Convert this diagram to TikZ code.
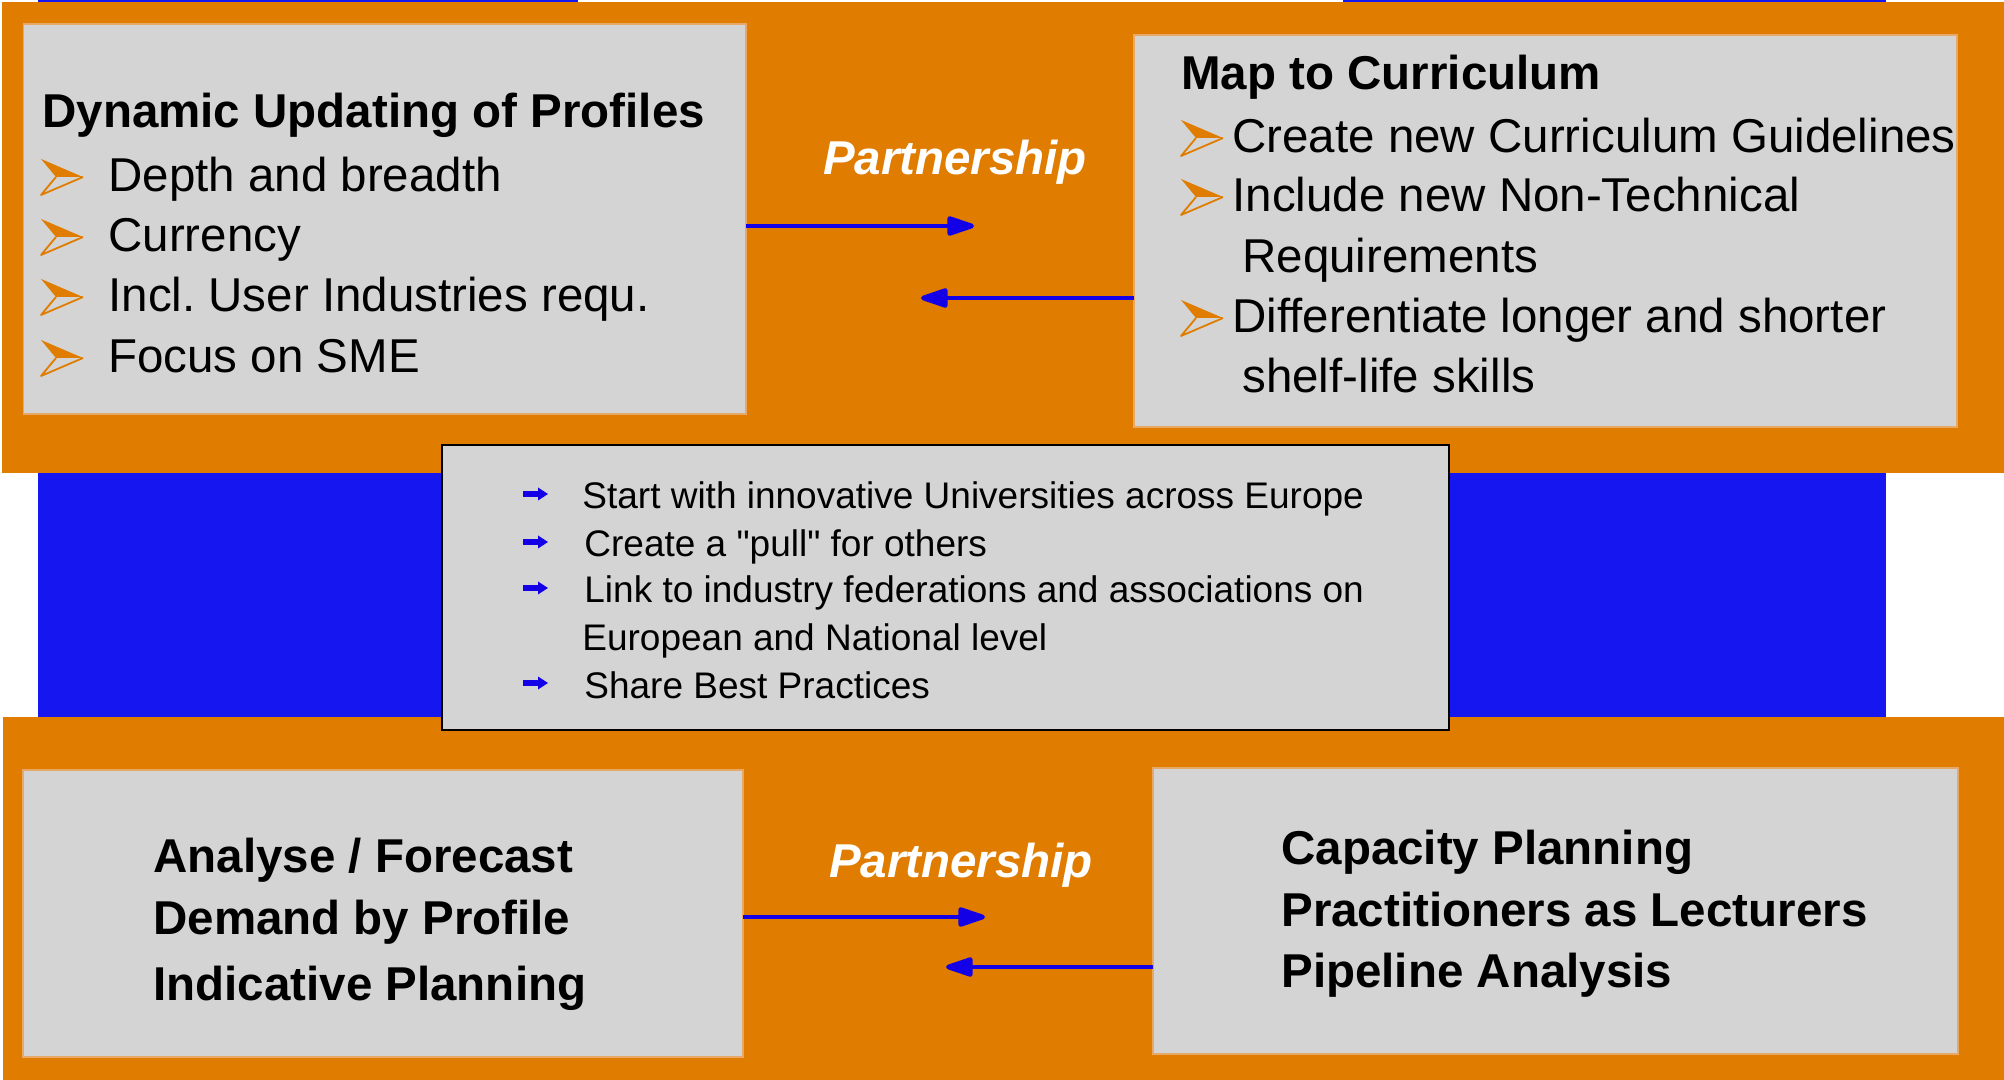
\documentclass[tikz,border=0pt]{standalone}
\usepackage{fontspec}
\setmainfont{Liberation Sans}
\newfontfamily\plainsans{Liberation Sans}
\usetikzlibrary{arrows.meta}
\frenchspacing
\definecolor{ora}{RGB}{224,124,0}
\definecolor{bgblue}{RGB}{22,22,240}
\definecolor{arblue}{RGB}{20,0,230}
\definecolor{boxgray}{RGB}{212,212,212}
\definecolor{boxedge}{RGB}{232,168,104}
\begin{document}
\begin{tikzpicture}[x=0.5pt,y=-0.5pt,
  panel/.style={draw=boxedge, line width=0.6pt, fill=boxgray, inner sep=0pt, outer sep=0pt},
  midpanel/.style={draw=black, line width=1.2pt, fill=boxgray, inner sep=0pt, outer sep=0pt},
  big/.style={inner sep=0pt, anchor=base west, font=\fontsize{23.75pt}{28pt}\selectfont},
  bigb/.style={inner sep=0pt, anchor=base west, font=\fontsize{23.75pt}{28pt}\selectfont\bfseries},
  small/.style={inner sep=0pt, anchor=base west, font=\fontsize{18.5pt}{22pt}\selectfont},
  partner/.style={inner sep=0pt, anchor=base, text=white, font=\fontsize{23.75pt}{28pt}\selectfont\bfseries\itshape},
  conn/.style={draw=arblue, line width=2.3pt, -{Triangle[length=16pt,width=10pt,round]}},
  obullet/.pic={
    \fill[ora] (0,0) -- (42,18) -- (15,18) -- cycle;
    \draw[ora, line width=0.9pt, line join=round] (15,18) -- (0,36) -- (42,18);
  },
  bbullet/.pic={
    \fill[arblue] (0,-3) rectangle (16,3);
    \fill[arblue] (15,-6.5) -- (25,0) -- (15,6.5) -- cycle;
  }]
\useasboundingbox (0,0) rectangle (2004,1080);
\fill[white] (0,0) rectangle (2004,1080);
% background bands
\fill[bgblue] (38,0) rectangle (1886,717);
\fill[white] (578,0) rectangle (1343,2.5);
\fill[ora] (2,2) rectangle (2004,473);
\fill[ora] (3,717) rectangle (2004,1080);

% panels
\node[panel, minimum width=361.25pt, minimum height=195pt] (tl) at (384.75,219) {};
\node[panel, minimum width=411.5pt, minimum height=196pt] (tr) at (1545.5,231) {};
\node[panel, minimum width=360pt, minimum height=143.5pt] (bl) at (383,913.5) {};
\node[panel, minimum width=402.5pt, minimum height=143pt] (br) at (1555.5,911) {};
\node[midpanel, minimum width=503.5pt, minimum height=142.5pt] (mid) at (945.5,587.5) {};

% top-left text
\node[bigb] (tlh) at (42,128) {Dynamic Updating of Profiles};
\pic at (41,159) {obullet};
\node[big] (tl1) at (108,192) {Depth and breadth};
\pic at (41,219) {obullet};
\node[big] (tl2) at (108,252) {Currency};
\pic at (41,279) {obullet};
\node[big] (tl3) at (108,312) {Incl. User Industries requ.};
\pic at (41,340) {obullet};
\node[big] (tl4) at (108,373) {Focus on SME};

% top-right text
\node[bigb] (trh) at (1181,90) {Map to Curriculum};
\pic at (1181,120) {obullet};
\node[big] (tr1) at (1232,153) {Create new Curriculum Guidelines};
\pic at (1181,179) {obullet};
\node[big] (tr2) at (1232,212) {Include new Non-Technical};
\node[big] (tr3) at (1242,273) {Requirements};
\pic at (1181,300) {obullet};
\node[big] (tr4) at (1232,333) {Differentiate longer and shorter};
\node[big] (tr5) at (1242,393) {shelf-life skills};

% partnership labels
\node[partner] (p1) at (955,175) {Partnership};
\node[partner] (p2) at (961,877) {Partnership};

% arrows top
\coordinate (a1e) at (974,226);
\draw[conn] (tl.east |- a1e) -- (a1e);
\coordinate (a2e) at (921,298);
\draw[conn] (tr.west |- a2e) -- (a2e);
% arrows bottom
\coordinate (a3e) at (985,917);
\draw[conn] (bl.east |- a3e) -- (a3e);
\coordinate (a4e) at (946,967);
\draw[conn] (br.west |- a4e) -- (a4e);

% middle text
\pic at (523,494) {bbullet};
\node[small] (m1) at (582,509) {Start with innovative Universities across Europe};
\pic at (523,542) {bbullet};
\node[small] (m2) at (584,557) {Create a {\plainsans"}pull{\plainsans"} for others};
\pic at (523,588) {bbullet};
\node[small] (m3) at (584,603) {Link to industry federations and associations on};
\node[small] (m4) at (582,651) {European and National level};
\pic at (523,683) {bbullet};
\node[small] (m5) at (584,698) {Share Best Practices};

% bottom-left text
\node[bigb] (bl1) at (153,872) {Analyse / Forecast};
\node[bigb] (bl2) at (153,934) {Demand by Profile};
\node[bigb] (bl3) at (153,1000) {Indicative Planning};

% bottom-right text
\node[bigb] (br1) at (1281,864) {Capacity Planning};
\node[bigb] (br2) at (1281,926) {Practitioners as Lecturers};
\node[bigb] (br3) at (1281,987) {Pipeline Analysis};
\end{tikzpicture}
\end{document}
